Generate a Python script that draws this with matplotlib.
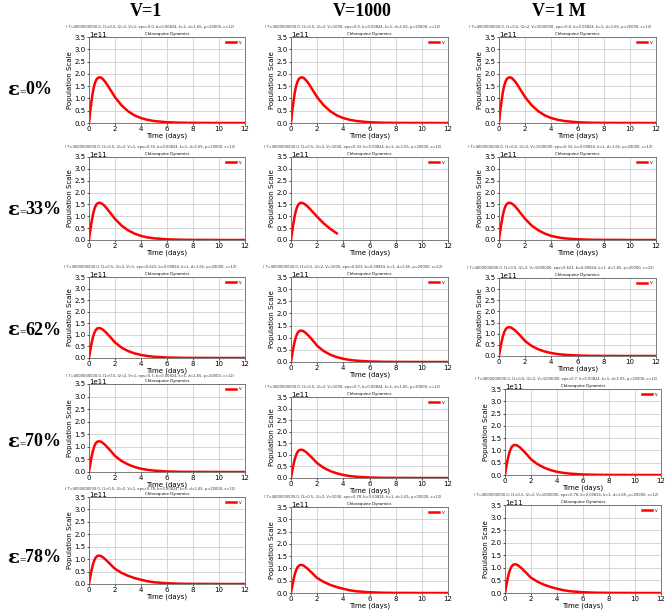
import numpy as np
import matplotlib
matplotlib.use("Agg")
import matplotlib.pyplot as plt

# time grid (days) shared by all panels
t_days = [0, 0.1, 0.2, 0.3, 0.4, 0.5, 0.6, 0.7, 0.8, 0.9, 1.0, 1.2, 1.4, 1.6, 1.8,
          2.0, 2.5, 3.0, 3.5, 4.0, 4.5, 5.0, 6.0, 7.0, 8.0, 10.0, 12.0]

# virus population (x 1e11), one list per efficacy
v_eps0 = [0, 0.50, 0.92, 1.27, 1.52, 1.69, 1.79, 1.84, 1.86, 1.85, 1.82, 1.71, 1.56, 1.39, 1.22,
          1.05, 0.72, 0.48, 0.31, 0.20, 0.13, 0.08, 0.03, 0.012, 0.005, 0.001, 0.0]
v_eps33 = [0, 0.40, 0.76, 1.06, 1.28, 1.43, 1.52, 1.56, 1.57, 1.56, 1.53, 1.44, 1.31, 1.17, 1.03,
           0.89, 0.61, 0.41, 0.27, 0.17, 0.11, 0.07, 0.03, 0.012, 0.005, 0.001, 0.0]
v_eps62 = [0, 0.34, 0.64, 0.89, 1.07, 1.19, 1.26, 1.29, 1.29, 1.28, 1.25, 1.16, 1.05, 0.93, 0.80,
           0.67, 0.45, 0.30, 0.20, 0.13, 0.085, 0.055, 0.022, 0.009, 0.004, 0.001, 0.0]
v_eps70 = [0, 0.32, 0.61, 0.84, 1.01, 1.13, 1.19, 1.22, 1.22, 1.21, 1.18, 1.10, 0.99, 0.88, 0.76,
           0.64, 0.44, 0.30, 0.20, 0.13, 0.085, 0.055, 0.022, 0.009, 0.004, 0.001, 0.0]
v_eps78 = [0, 0.29, 0.56, 0.78, 0.94, 1.05, 1.11, 1.14, 1.14, 1.13, 1.10, 1.02, 0.92, 0.82, 0.71,
           0.61, 0.45, 0.33, 0.24, 0.17, 0.11, 0.07, 0.03, 0.012, 0.005, 0.001, 0.0]

# V=1000, eps=0.33 run stops early
t_cut = [0, 0.1, 0.2, 0.3, 0.4, 0.5, 0.6, 0.7, 0.8, 0.9, 1.0, 1.2, 1.4, 1.6, 1.8, 2.0, 2.5, 3.0, 3.5]
v_cut = [0, 0.40, 0.76, 1.06, 1.28, 1.43, 1.52, 1.56, 1.57, 1.56, 1.53, 1.45, 1.34, 1.22, 1.10,
         0.98, 0.70, 0.47, 0.28]

col_titles = ["V=1", "V=1000", "V=1 M"]
v_values = ["1", "1000", "1000000"]
row_labels = ["0%", "33%", "62%", "70%", "78%"]
eps_values = ["0.0", "0.33", "0.623", "0.7", "0.78"]
series = [v_eps0, v_eps33, v_eps62, v_eps70, v_eps78]

# axes boxes in pixels: left, top, right, bottom
boxes = [
    [(89, 37, 245, 123), (291, 37, 448, 123), (499, 37, 656, 123)],
    [(89, 157, 245, 240), (291, 157, 448, 240), (499, 157, 656, 240)],
    [(89, 277, 245, 358), (291, 277, 448, 362), (499, 278, 656, 356)],
    [(89, 384, 245, 472), (291, 397, 448, 478), (505, 389, 661, 475)],
    [(89, 497, 245, 584), (291, 507, 448, 593), (505, 505, 661, 593)],
]

W, H = 672, 611
fig = plt.figure(figsize=(W / 100, H / 100), dpi=100)
fig.patch.set_facecolor("white")

for r in range(5):
    for c in range(3):
        l, t, rr, b = boxes[r][c]
        ax = fig.add_axes([l / W, 1 - b / H, (rr - l) / W, (b - t) / H])
        if r == 1 and c == 1:
            x, y = t_cut, v_cut
        else:
            x, y = t_days, series[r]
        ax.plot(x, np.array(y) * 1e11, color="red", lw=1.8, label="V")
        ax.set_xlim(0, 12)
        ax.set_ylim(0, 3.5e11)
        ax.set_xticks(range(0, 13, 2))
        ax.set_yticks(np.arange(0, 3.51e11, 0.5e11))
        ax.grid(True, color="#d0d0d0", lw=0.6)
        ax.set_axisbelow(True)
        ax.tick_params(labelsize=5, length=1.5, width=0.5, pad=1)
        ax.yaxis.OFFSETTEXTPAD = 0
        ax.yaxis.get_offset_text().set_fontsize(5)
        for s in ax.spines.values():
            s.set_color("#666666")
            s.set_linewidth(0.6)
        ax.set_xlabel("Time (days)", fontsize=5, labelpad=0)
        ax.set_ylabel("Population Scale", fontsize=5, labelpad=1)
        ax.set_title("Chloroquine Dynamics", fontsize=2.8, pad=1.5)
        ax.legend(loc="upper right", fontsize=2.8, handlelength=2.5, frameon=False)
        params = ("( T=4000000000.0, I1=0.5, I2=2, V=%s, eps=%s, b=0.00824, k=1, d=1.65, "
                  "p=20000, c=12)" % (v_values[c], eps_values[r]))
        gap = 8 if (c == 0 and r >= 3) else 10
        fig.text(((l + rr) / 2 - 17) / W, 1 - (t - gap) / H, params, fontsize=2.6,
                 ha="center", va="center", color="#333333")

col_centers = [146, 362, 559]
for c in range(3):
    fig.text(col_centers[c] / W, 1 - 12 / H, col_titles[c], fontsize=13,
             fontweight="bold", family="Liberation Serif", ha="center", va="center")

row_centers = [90, 210, 330, 442, 558]
for r in range(5):
    y = 1 - row_centers[r] / H
    fig.text(8 / W, y, "\u025b", fontsize=14, fontweight="bold",
             family="DejaVu Serif", ha="left", va="center")
    fig.text(19 / W, y - 2 / H, "=", fontsize=8, family="Liberation Serif",
             ha="left", va="center")
    fig.text(25 / W, y, row_labels[r], fontsize=13, fontweight="bold",
             family="Liberation Serif", ha="left", va="center")

fig.savefig("out.png", dpi=100, facecolor="white")
